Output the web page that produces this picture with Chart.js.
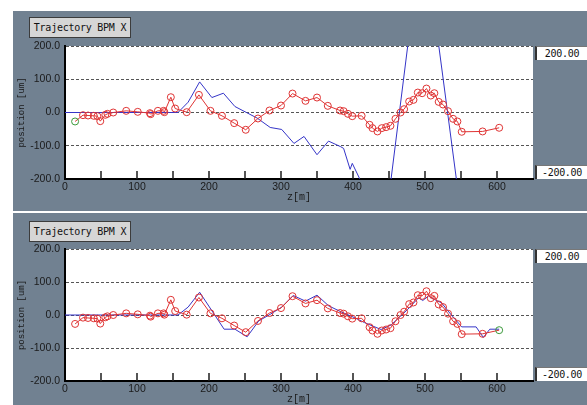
<!DOCTYPE html>
<html>
<head>
<meta charset="utf-8">
<script src="https://cdn.jsdelivr.net/npm/chart.js@4/dist/chart.umd.min.js"></script>
<style>
  html, body { margin: 0; padding: 0; background: #fff; }
  body { width: 587px; height: 405px; position: relative; overflow: hidden; }
  .panel { position: absolute; left: 13px; width: 574px; background: #718191; }
  #p1 { top: 11px; height: 200px; }
  #p2 { top: 213px; height: 192px; }
  .panel canvas { position: absolute; left: 0; top: 0; }
  .title {
    position: absolute; left: 16px; width: 102px; height: 21px; box-sizing: border-box;
    background: #d6d6d6; border: 1px solid #3c3c3c;
    font: 10px "DejaVu Sans Mono", monospace; letter-spacing: -0.25px;
    line-height: 19px; text-align: center; color: #111; white-space: pre;
  }
  .lim {
    position: absolute; left: 522px; width: 52px; height: 14px; box-sizing: border-box;
    background: #fff; border-left: 2px solid #333; border-top: 1px solid #777;
    font: 10px "DejaVu Sans Mono", monospace; letter-spacing: -0.3px;
    line-height: 13px; text-align: center; color: #111;
  }
</style>
</head>
<body>
<div class="panel" id="p1">
  <canvas id="c1" width="574" height="192"></canvas>
  <div class="title" style="top:6px">Trajectory BPM X</div>
  <div class="lim" style="top:35px">200.00</div>
  <div class="lim" style="top:154px">-200.00</div>
</div>
<div class="panel" id="p2">
  <canvas id="c2" width="574" height="192"></canvas>
  <div class="title" style="top:8px">Trajectory BPM X</div>
  <div class="lim" style="top:36px">200.00</div>
  <div class="lim" style="top:154px">-200.00</div>
</div>
<script>
// BPM positions along the line [m] and measured horizontal orbit [um]
const BPM_Z = [14, 25, 32, 40, 45, 49, 56, 59, 67, 85,
               101, 118, 119, 129, 137, 138, 147, 153, 169, 186,
               202, 218, 235, 251, 268, 284, 300, 316, 334, 350,
               365, 382, 387, 393, 399, 412, 423, 427, 434, 440,
               446, 452, 459, 466, 471, 478, 484, 490, 496, 502,
               508, 513, 519, 525, 532, 539, 545, 551, 580, 603];
const BPM_X = [-27, -8, -9, -10, -11, -26, -7, -4, 0, 5,
               2, -2, -5, 5, 5, 1, 46, 12, 1, 53,
               5, -10, -32, -52, -18, 6, 21, 57, 35, 45,
               20, 6, 4, -4, -11, -10, -37, -47, -57, -47,
               -44, -40, -19, 0, 10, 33, 38, 60, 58, 72,
               51, 58, 32, 24, 4, -19, -27, -58, -57, -46];

// Model trajectory, first panel (runs far outside the +-200 um window after 400 m)
const MODEL1_Z = [0, 157, 171, 187, 204, 220, 236, 252, 267, 285,
                  301, 318, 332, 350, 366, 383, 387, 396, 399, 409,
                  440, 497, 551, 580, 603];
const MODEL1_X = [0, 0, 31, 92, 45, 58, 18, 0, -17, -45,
                  -51, -93, -72, -127, -86, -103, -108, -171, -153, -198,
                  -423, 564, -322, -700, -900];

// Model trajectory, second panel
const MODEL2_Z = [0, 157, 171, 187, 221, 236, 253, 269, 285, 301,
                  317, 334, 350, 366, 384, 400, 416, 439, 453, 476,
                  491, 497, 505, 513, 523, 532, 551, 571, 581, 590, 603];
const MODEL2_X = [0, 0, 24, 69, -43, -43, -66, -18, 2, 24,
                  59, 42, 60, 28, 9, -6, -23, -44, -30, 17,
                  52, 44, 58, 47, 37, 12, -36, -36, -68, -43, -43];

// Axis ticks
const X_TICKS = [0, 100, 200, 300, 400, 500, 600];
const X_MINOR = [50, 100, 150, 200, 250, 300, 350, 400, 450, 500, 550, 600];
const Y_TICKS = [-200, -100, 0, 100, 200];
const X_MIN = 0, X_MAX = 650, Y_MIN = -200, Y_MAX = 200;

const RED = '#e03434', BLUE = '#3535c8', GREEN = '#3c9a3c';

Chart.defaults.color = '#111';

const pts = (zs, xs) => zs.map((z, i) => ({ x: z, y: xs[i] }));

// white plot field plus short inward ticks on the z axis
const plotDecor = {
  id: 'plotDecor',
  beforeDraw(chart) {
    const { ctx, chartArea: a } = chart;
    ctx.save();
    ctx.fillStyle = '#fff';
    ctx.fillRect(a.left, a.top, a.right - a.left, a.bottom - a.top);
    ctx.restore();
  },
  beforeDatasetsDraw(chart) {
    const { ctx, chartArea: a, scales: { x } } = chart;
    ctx.save();
    ctx.strokeStyle = '#1e1e1e';
    ctx.lineWidth = 1.5;
    ctx.beginPath();
    X_MINOR.forEach(v => {
      const px = Math.round(x.getPixelForValue(v));
      ctx.moveTo(px, a.bottom);
      ctx.lineTo(px, a.bottom - 8);
    });
    ctx.stroke();
    ctx.restore();
  }
};

function makePanel(id, modelZ, modelX, greenIndex, topPad) {
  const markerColors = BPM_Z.map((_, i) => (i === greenIndex ? GREEN : RED));
  return new Chart(document.getElementById(id), {
    type: 'line',
    data: {
      datasets: [
        {
          label: 'BPM',
          data: pts(BPM_Z, BPM_X),
          borderColor: RED,
          borderWidth: 1,
          pointRadius: 3.5,
          pointBorderWidth: 1,
          pointBorderColor: markerColors,
          pointBackgroundColor: 'rgba(0,0,0,0)',
          tension: 0,
          order: 0
        },
        {
          label: 'model',
          data: pts(modelZ, modelX),
          borderColor: BLUE,
          borderWidth: 1,
          pointRadius: 0,
          tension: 0,
          order: 1
        }
      ]
    },
    options: {
      responsive: false,
      animation: false,
      devicePixelRatio: 1,
      layout: { padding: { top: topPad, right: 54, left: 0, bottom: 0 } },
      plugins: { legend: { display: false }, tooltip: { enabled: false } },
      scales: {
        x: {
          type: 'linear',
          min: X_MIN, max: X_MAX,
          afterFit(s) { s.height = 24; },
          afterBuildTicks(s) { s.ticks = X_TICKS.map(v => ({ value: v })); },
          grid: { display: false, drawTicks: false },
          border: { display: true, color: '#000', width: 2 },
          ticks: {
            padding: 2,
            maxRotation: 0,
            autoSkip: false,
            font: { family: '"Liberation Sans", sans-serif', size: 10.5 },
            color: '#1a1a1a',
            callback: v => String(v)
          },
          title: {
            display: true, text: 'z[m]',
            font: { family: '"Liberation Mono", monospace', size: 10 },
            color: '#1a1a1a',
            padding: { top: 0, bottom: 0 }
          }
        },
        y: {
          min: Y_MIN, max: Y_MAX,
          afterFit(s) { s.width = 52; },
          afterBuildTicks(s) { s.ticks = Y_TICKS.map(v => ({ value: v })); },
          grid: { color: '#555', lineWidth: 1, drawTicks: false },
          // in Chart.js v4 border.dash dashes the grid lines; the axis line stays solid
          border: { display: true, color: '#000', width: 2, dash: [3, 2] },
          ticks: {
            padding: 5,
            font: { family: '"Liberation Sans", sans-serif', size: 10.5 },
            color: '#1a1a1a',
            callback: v => Number(v).toFixed(1)
          },
          title: {
            display: true, text: 'position [um]',
            font: { family: '"Liberation Mono", monospace', size: 9 },
            color: '#1a1a1a',
            padding: { top: 3, bottom: 0 }
          }
        }
      }
    },
    plugins: [plotDecor]
  });
}

makePanel('c1', MODEL1_Z, MODEL1_X, 0, 35);
makePanel('c2', MODEL2_Z, MODEL2_X, BPM_Z.length - 1, 36);
</script>
</body>
</html>
